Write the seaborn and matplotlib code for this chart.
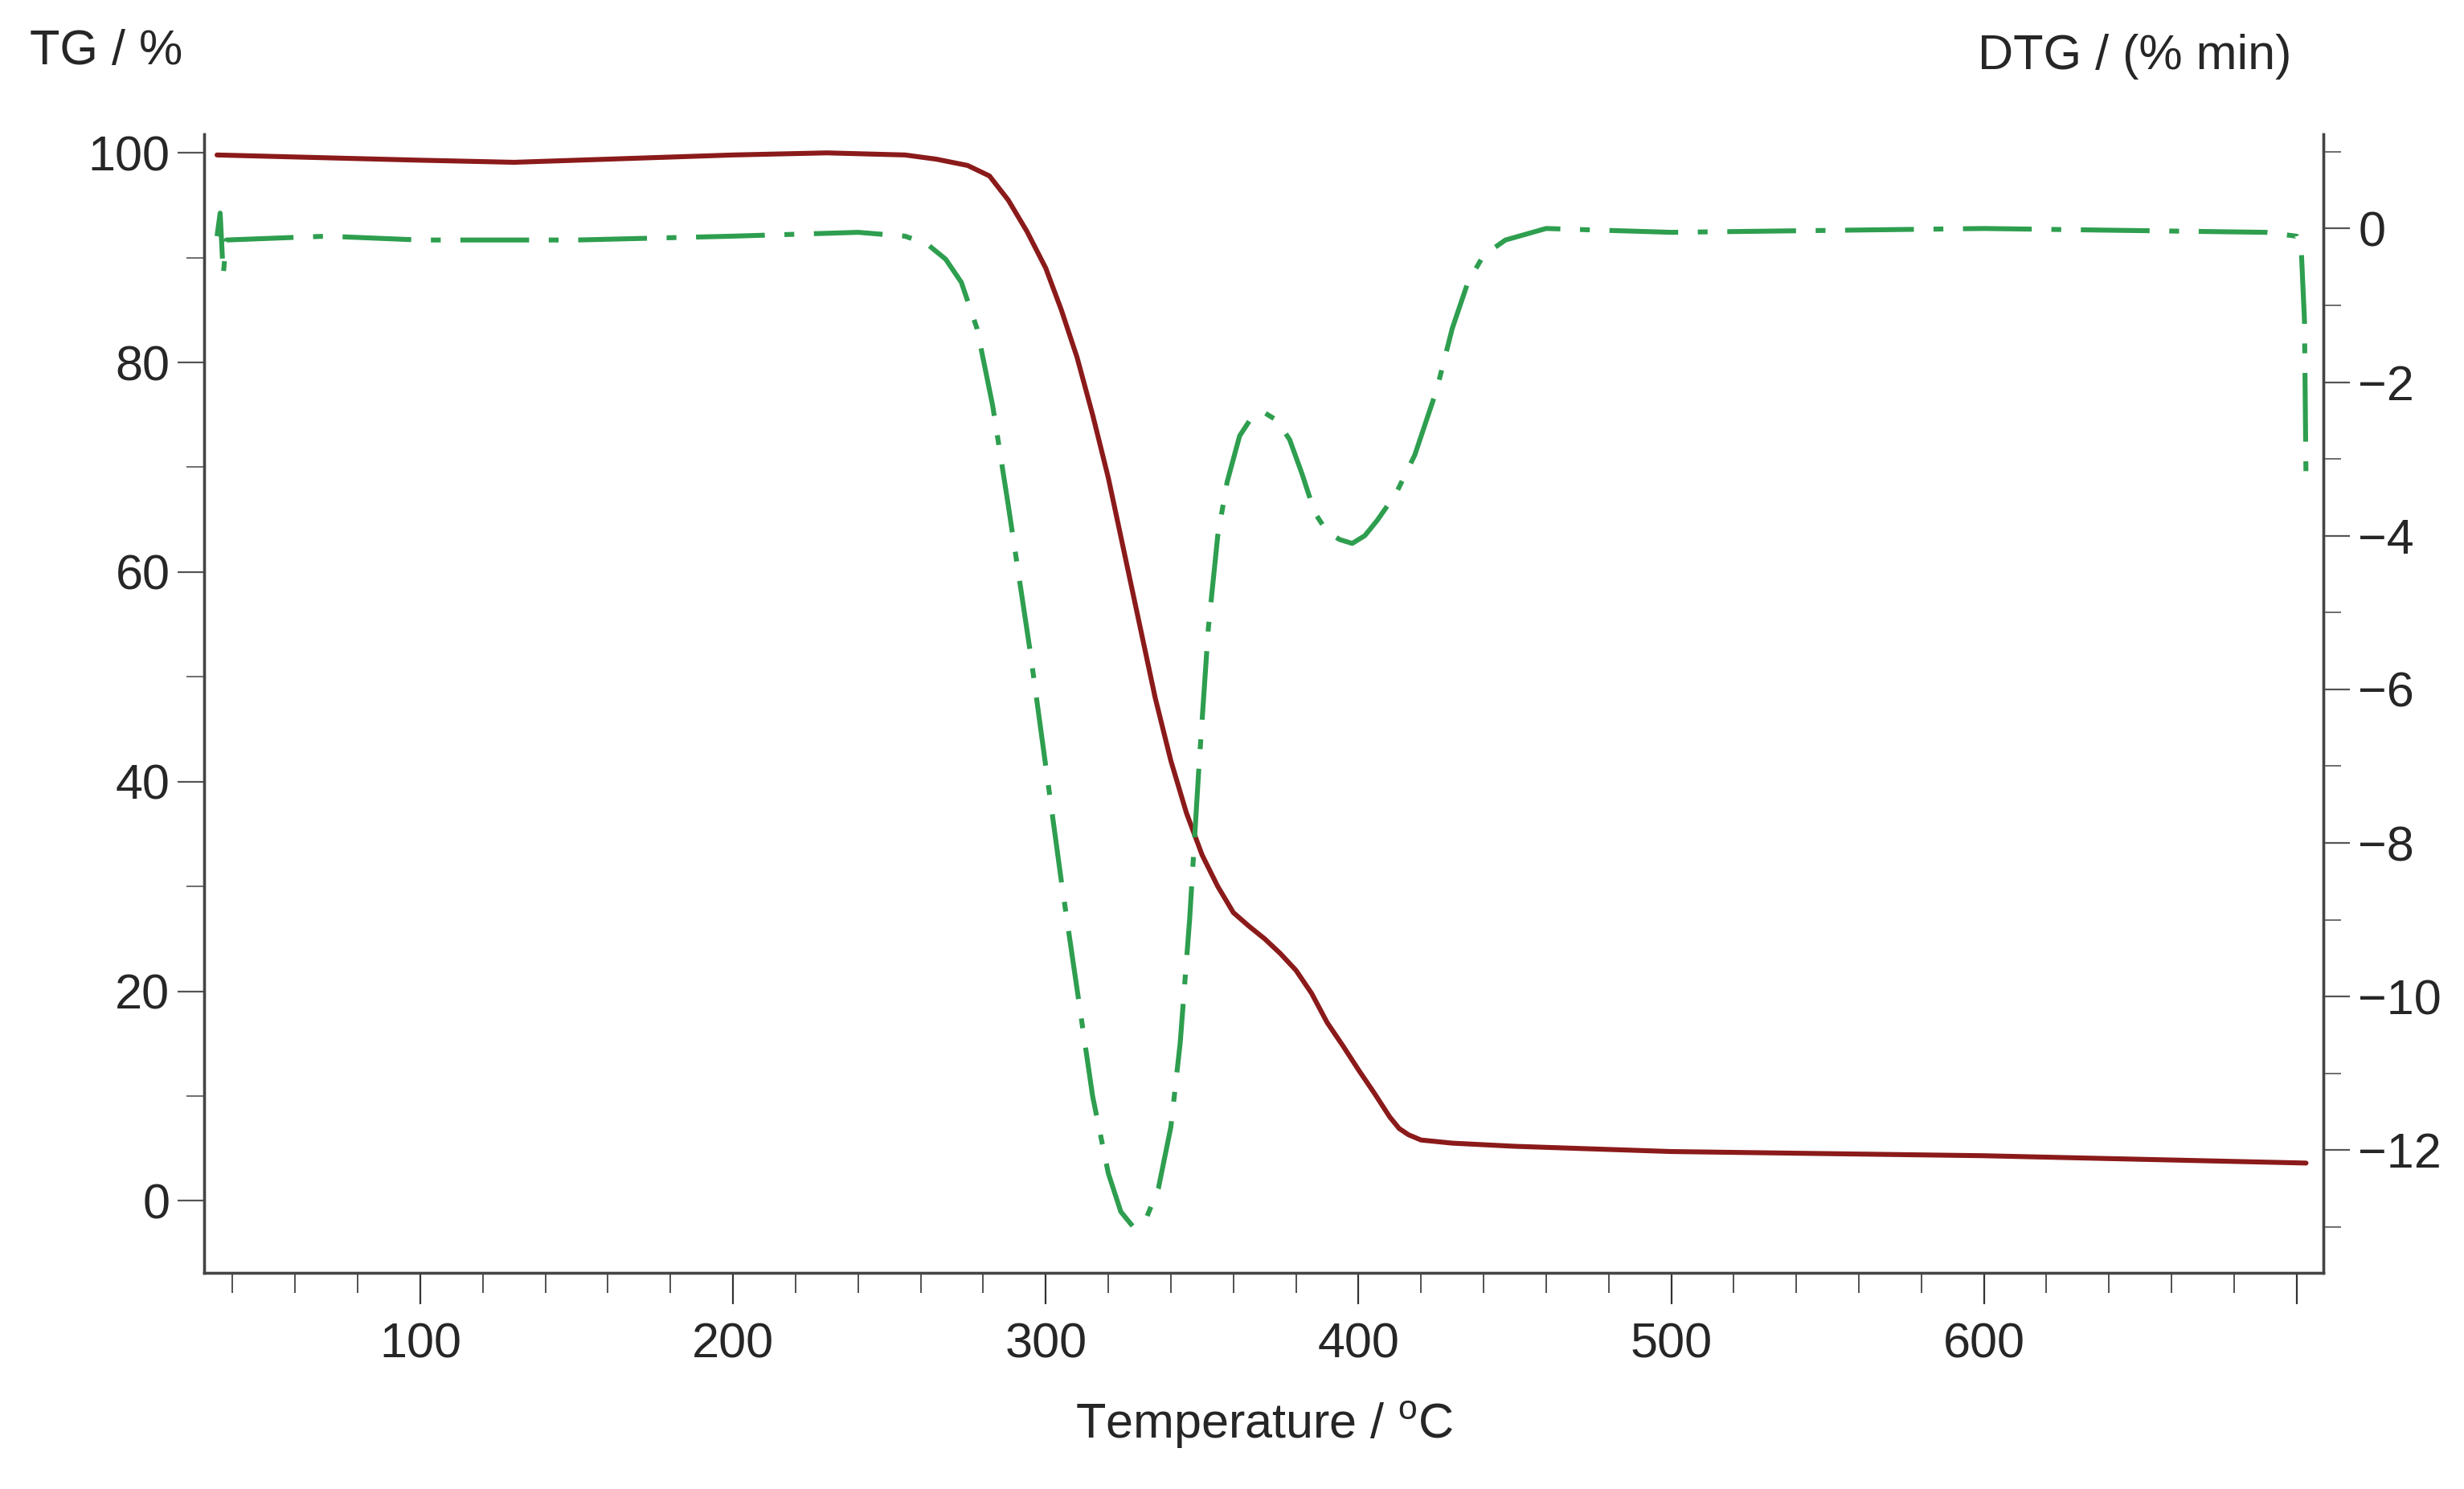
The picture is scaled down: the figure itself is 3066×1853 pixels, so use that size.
import numpy as np
import matplotlib
matplotlib.use("Agg")
import matplotlib.pyplot as plt
import seaborn as sns
from matplotlib.ticker import MultipleLocator

sns.set_style("white")
plt.rcParams['font.family'] = ['Liberation Sans', 'DejaVu Sans']
plt.rcParams['mathtext.fontset'] = 'custom'
plt.rcParams['mathtext.rm'] = 'Liberation Sans'

tg_temp = [35, 100, 130, 200, 230, 255, 265, 275, 282, 288, 294, 300, 305, 310, 315, 320, 325, 330, 335, 340, 345, 350, 355, 360, 365, 370, 375, 380, 385, 390, 395, 400, 405, 410, 413, 416, 420, 430, 450, 500, 600, 703]
tg_val = [99.8, 99.3, 99.1, 99.8, 100, 99.8, 99.4, 98.8, 97.8, 95.5, 92.5, 89, 85, 80.5, 75, 69, 62, 55, 48, 42, 37, 33, 30, 27.5, 26.2, 25, 23.6, 22, 19.8, 17, 14.8, 12.5, 10.3, 8, 6.9, 6.3, 5.8, 5.5, 5.2, 4.7, 4.3, 3.6]

dtg_temp = [35, 36, 37, 38, 70, 100, 150, 200, 240, 255, 262, 268, 273, 278, 283, 288, 295, 305, 315, 320, 324, 328, 332, 336, 340, 343, 346, 349, 352, 355, 358, 362, 366, 370, 374, 378, 382, 386, 390, 394, 398, 402, 406, 412, 418, 425, 430, 435, 440, 447, 460, 500, 600, 690, 700, 701.5, 702.5, 703]
dtg_val = [-0.1, 0.2, -0.6, -0.15, -0.1, -0.15, -0.15, -0.1, -0.05, -0.1, -0.2, -0.4, -0.7, -1.3, -2.3, -3.6, -5.5, -8.5, -11.3, -12.3, -12.8, -13.0, -12.9, -12.5, -11.7, -10.6, -9.0, -7.0, -5.2, -4.0, -3.3, -2.7, -2.45, -2.4, -2.5, -2.75, -3.2, -3.7, -3.95, -4.05, -4.1, -4.0, -3.8, -3.45, -2.95, -2.1, -1.3, -0.7, -0.35, -0.15, 0.0, -0.05, 0.0, -0.05, -0.1, -0.3, -1.2, -3.3]

fig = plt.figure(figsize=(15.33, 9.265), dpi=200)
ax = fig.add_axes([0.083, 0.145, 0.86, 0.765])
ax2 = ax.twinx()

sns.lineplot(x=tg_temp, y=tg_val, ax=ax, color='#8b1a1a', lw=2.2)
sns.lineplot(x=dtg_temp, y=dtg_val, ax=ax2, color='#2e9e4f', lw=2.2, sort=False)
ax2.lines[0].set_dashes([14, 4, 2, 4])

ax.set_xlim(31, 708.6)
ax.set_ylim(-6.9, 101.8)
ax2.set_ylim(-13.6, 1.23)

ax.xaxis.set_major_locator(MultipleLocator(100))
ax.xaxis.set_minor_locator(MultipleLocator(20))
ax.yaxis.set_major_locator(MultipleLocator(20))
ax.yaxis.set_minor_locator(MultipleLocator(10))
ax2.yaxis.set_major_locator(MultipleLocator(2))
ax2.yaxis.set_minor_locator(MultipleLocator(1))

ax.tick_params(axis='x', which='both', direction='out', labelsize=22, pad=8, bottom=True, color='#333333')
ax.tick_params(axis='x', which='major', length=14)
ax.tick_params(axis='x', which='minor', length=9, bottom=True)
ax.tick_params(axis='y', which='both', direction='out', labelsize=22, left=True, color='#555555')
ax.tick_params(axis='y', which='major', length=12)
ax.tick_params(axis='y', which='minor', length=8, left=True)
ax2.tick_params(axis='y', which='both', direction='out', labelsize=22, right=True, color='#555555')
ax2.tick_params(axis='y', which='major', length=12)
ax2.tick_params(axis='y', which='minor', length=8, right=True)

ax.set_xticks([100, 200, 300, 400, 500, 600, 700])
ax.set_xticklabels(["100", "200", "300", "400", "500", "600", ""])
ax2.set_yticklabels([f"\u2212{abs(int(v))}" if v < 0 else f"{int(v)}" for v in ax2.get_yticks()])

for a in (ax, ax2):
    a.spines['top'].set_visible(False)
    for s in ('left', 'bottom', 'right'):
        a.spines[s].set_color('#444444')
        a.spines[s].set_linewidth(1.2)

fig.text(0.012, 0.965, "TG / %", fontsize=22, ha='left', va='center')
fig.text(0.93, 0.962, "DTG / (% min)", fontsize=22, ha='right', va='center')
ax.set_xlabel(r"Temperature / $^{\rm o}$C", fontsize=22, labelpad=14)

fig.savefig("out.png", dpi=200)
